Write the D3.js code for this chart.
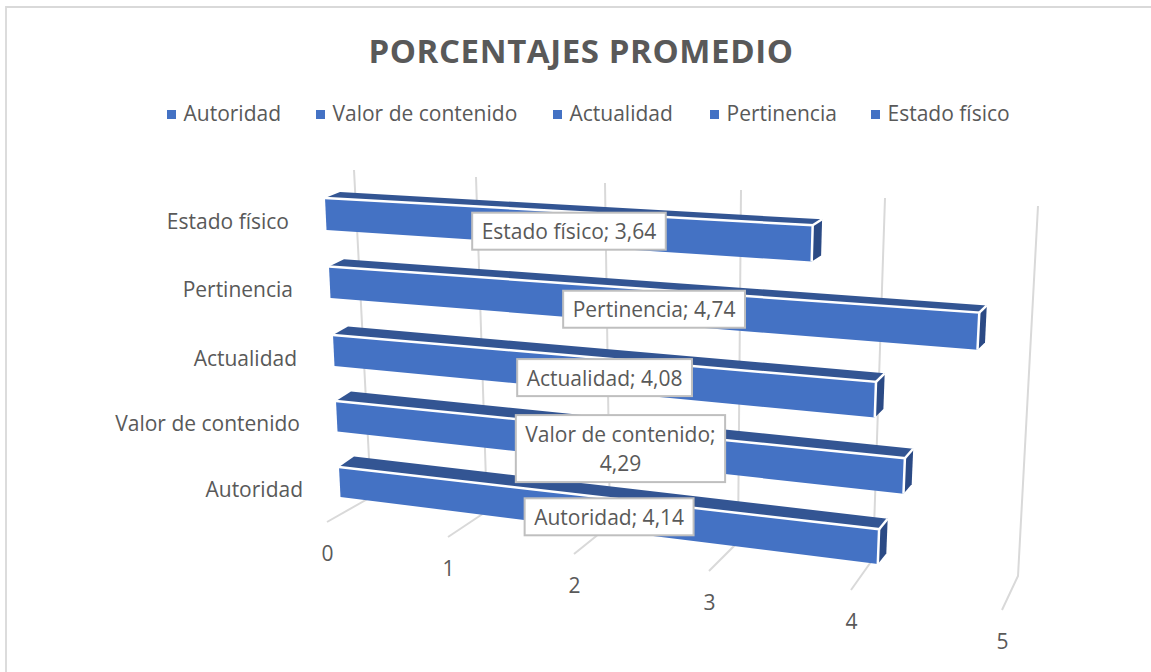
<!DOCTYPE html>
<html><head><meta charset="utf-8">
<script src="https://cdn.jsdelivr.net/npm/d3@7"></script>
<style>html,body{margin:0;background:#fff}svg{display:block}text{font-family:"Open Sans",sans-serif;fill:#595959}</style>
</head><body><script>
// Data
const categories = ["Autoridad","Valor de contenido","Actualidad","Pertinencia","Estado físico"];
const values = [4.14,4.29,4.08,4.74,3.64];
const ticks = [0,1,2,3,4,5];
const labelLines = [["Autoridad; 4,14"],["Valor de contenido;","4,29"],["Actualidad; 4,08"],["Pertinencia; 4,74"],["Estado físico; 3,64"]];

const W=1151,H=672;
const svg=d3.select("body").append("svg").attr("width",W).attr("height",H);

// Perspective calibration: positions along the three planes of the 3D box
const wallTopX=d3.scaleLinear().domain(ticks).range([354,476,605,741,885,1038]);
const wallTopY=d3.scaleLinear().domain(ticks).range([170,177,183,190,198,206]);
const cornerX=d3.scaleLinear().domain(ticks).range([371,487,610,738,873,1018]);
const cornerY=d3.scaleLinear().domain(ticks).range([497,511,525,542,559,576]);
const frontX=d3.scaleLinear().domain(ticks).range([327,448,574,709,851,1002]);
const frontY=d3.scaleLinear().domain(ticks).range([522,537,554,571,590,610]);
// foreshortening of the value axis, 0..1
const persp=d3.scaleLinear().domain(ticks).range([0,.178,.367,.564,.776,1]);
// bar plane per category index
const rowDom=[0,2,4];
const x0=d3.scaleLinear().domain(rowDom).range([339,333,325]);
const x5=d3.scaleLinear().domain(rowDom).range([1008,1017,1022]);
const y0=d3.scaleLinear().domain(rowDom).range([467,335,198]);
const y5=d3.scaleLinear().domain(rowDom).range([544,394,237]);
const h0=d3.scaleLinear().domain(rowDom).range([30,31,32]);
const h5=d3.scaleLinear().domain(rowDom).range([36,37,38]);
const depthX=d3.scaleLinear().domain([0,1]).range([15,7]);
const depthY=d3.scaleLinear().domain(rowDom).range([10.5,8.5,6]);
const lerp=(a,b,t)=>a+(b-a)*t;
function fp(i,v,f){ // front-face point; f=0 top, f=1 bottom
  const s=persp(v);
  const topY=lerp(y0(i),y5(i),s);
  return [lerp(x0(i),x5(i),s)+f*(1.5-3.5*s), topY+f*lerp(h0(i),h5(i),s)];
}
function bp(i,v,f){const p=fp(i,v,f),s=persp(v);return [p[0]+depthX(s),p[1]-depthY(i)];}
const path=a=>"M"+a.map(p=>p.map(n=>n.toFixed(1)).join(",")).join("L")+"Z";
const open=a=>"M"+a.map(p=>p.map(n=>n.toFixed(1)).join(",")).join("L");

// Chart frame
svg.append("path").attr("d",`M6,${H}V7H${W}`).attr("fill","none").attr("stroke","#d9d9d9").attr("stroke-width",1.8);

// Title
svg.append("text").attr("x",581).attr("y",63).attr("text-anchor","middle")
  .attr("font-size",33).attr("font-weight",700).style("letter-spacing","0.6px").text("PORCENTAJES PROMEDIO");

// Legend
const legendX=[167,316,553,710,871];
const lg=svg.append("g").selectAll("g").data(categories).join("g").attr("transform",(d,i)=>`translate(${legendX[i]},0)`);
lg.append("rect").attr("x",0).attr("y",110).attr("width",9).attr("height",9).attr("fill","#4472c4");
lg.append("text").attr("x",16.5).attr("y",121).attr("font-size",21).text(d=>d);

// Gridlines
svg.append("g").selectAll("path").data(ticks).join("path")
  .attr("d",v=>open([[wallTopX(v),wallTopY(v)],[cornerX(v),cornerY(v)],[frontX(v),frontY(v)]]))
  .attr("fill","none").attr("stroke","#d9d9d9").attr("stroke-width",2);

// Tick labels
svg.append("g").selectAll("text").data(ticks).join("text")
  .attr("x",v=>frontX(v)+0.5).attr("y",v=>frontY(v)+39).attr("text-anchor","middle").attr("font-size",21).text(d=>d);

// Category labels
svg.append("g").selectAll("text").data(categories).join("text")
  .attr("x",(d,i)=>x0(i)-36).attr("y",(d,i)=>y0(i)+h0(i)/2+15).attr("text-anchor","end").attr("font-size",21).text(d=>d);

// Bars
const bars=svg.append("g").selectAll("g").data(values).join("g");
bars.append("path").attr("fill","#335593").attr("d",(v,i)=>path([fp(i,0,0),bp(i,0,0),bp(i,v,0),fp(i,v,0)]));
bars.append("path").attr("fill","#2b4a85").attr("d",(v,i)=>path([fp(i,v,0),bp(i,v,0),bp(i,v,1),fp(i,v,1)]));
bars.append("path").attr("fill","#4472c4").attr("d",(v,i)=>path([fp(i,0,0),fp(i,v,0),fp(i,v,1),fp(i,0,1)]));
bars.append("path").attr("fill","none").attr("stroke","#fff").attr("stroke-width",2.5)
  .attr("d",(v,i)=>open([fp(i,0,0),fp(i,v,0),fp(i,v,1)]));
bars.append("path").attr("fill","none").attr("stroke","#fff").attr("stroke-width",2.5)
  .attr("d",(v,i)=>open([fp(i,v,0),bp(i,v,0)]));

// Data labels
const lh=29;
labelLines.forEach((lines,i)=>{
  const v=values[i],a=fp(i,0,0),b=fp(i,v,0),c=fp(i,v,1),d=fp(i,0,1);
  const cx=(a[0]+b[0]+c[0]+d[0])/4, cy=(a[1]+b[1]+c[1]+d[1])/4+2.5;
  const g=svg.append("g");
  const t=g.selectAll("text").data(lines).join("text").attr("x",cx)
    .attr("y",(l,k)=>cy+8-(lines.length-1)*lh/2+k*lh).attr("text-anchor","middle").attr("font-size",21).text(l=>l);
  let w=0; t.each(function(){w=Math.max(w,this.getComputedTextLength());});
  const bw=w+19, bh=lines.length*lh+ (lines.length>1?9:8);
  g.insert("rect","text").attr("x",cx-bw/2).attr("y",cy-bh/2).attr("width",bw).attr("height",bh)
    .attr("fill","#fff").attr("stroke","#bfbfbf").attr("stroke-width",2);
});
</script></body></html>
